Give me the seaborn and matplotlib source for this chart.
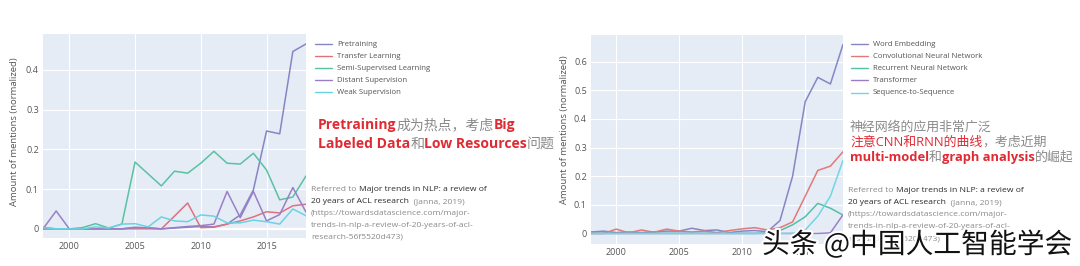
import matplotlib
matplotlib.use("Agg")
import matplotlib.pyplot as plt
import matplotlib.patheffects as pe
import seaborn as sns
import pandas as pd

# ---------------- data ----------------
years = list(range(1998, 2019))

left_names = ["Pretraining", "Transfer Learning", "Semi-Supervised Learning",
              "Distant Supervision", "Weak Supervision"]
pretraining = [0, 0, 0, 0, 0, 0, 0, 0.004, 0.002, 0, 0.002, 0.004, 0.006, 0.005,
               0.012, 0.035, 0.098, 0.246, 0.239, 0.446, 0.465]
transfer_learning = [0, 0, 0, 0, 0, 0, 0, 0, 0, 0, 0.032, 0.065, 0.003, 0.004,
                     0.012, 0.02, 0.03, 0.043, 0.04, 0.058, 0.062]
semi_supervised = [0.004, 0, 0, 0.003, 0.013, 0.002, 0.012, 0.168, 0.138, 0.108,
                   0.145, 0.14, 0.165, 0.195, 0.165, 0.163, 0.19, 0.148, 0.073,
                   0.08, 0.133]
distant_supervision = [0, 0.045, 0, 0, 0, 0, 0, 0.003, 0.003, 0, 0.003, 0.006,
                       0.008, 0.012, 0.094, 0.028, 0.094, 0.02, 0.036, 0.104, 0.042]
weak_supervision = [0.003, 0, 0, 0, 0.005, 0.002, 0.012, 0.013, 0.005, 0.03, 0.02,
                    0.018, 0.035, 0.032, 0.015, 0.015, 0.022, 0.018, 0.012, 0.05,
                    0.033]

right_names = ["Word Embedding", "Convolutional Neural Network",
               "Recurrent Neural Network", "Transformer", "Sequence-to-Sequence"]
word_embedding = [0.005, 0.008, 0.003, 0.005, 0.003, 0.005, 0.008, 0.008, 0.018,
                  0.01, 0.012, 0.003, 0.008, 0.01, 0.006, 0.045, 0.2, 0.46, 0.545,
                  0.522, 0.66]
cnn = [0, 0, 0.015, 0.002, 0.012, 0.004, 0.015, 0.008, 0.005, 0.008, 0.003, 0.01,
       0.016, 0.02, 0.012, 0.02, 0.04, 0.13, 0.22, 0.235, 0.285]
rnn = [0, 0, 0, 0, 0, 0, 0, 0, 0, 0, 0, 0, 0, 0, 0.002, 0.01, 0.03, 0.058, 0.105,
       0.088, 0.064]
transformer = [0, 0, 0, 0, 0, 0, 0, 0, 0, 0, 0, 0, 0, 0, 0, 0, 0, 0, 0, 0.002,
               0.065]
seq2seq = [0, 0, 0, 0, 0, 0, 0, 0, 0, 0, 0, 0, 0, 0, 0, 0, 0, 0.012, 0.06, 0.13,
           0.255]

left_yticks = [0, 0.1, 0.2, 0.3, 0.4]
left_yticklabels = ["0", "0.1", "0.2", "0.3", "0.4"]
right_yticks = [0, 0.1, 0.2, 0.3, 0.4, 0.5, 0.6]
right_yticklabels = ["0", "0.1", "0.2", "0.3", "0.4", "0.5", "0.6"]
xticks = [2000, 2005, 2010, 2015]
ylabel = "Amount of mentions (normalized)"

left_colors = ["#8785c4", "#e0707e", "#58c2a2", "#9a7fc6", "#6ad3e2"]
right_colors = ["#8785c4", "#e07a78", "#52c0a6", "#9a7fc6", "#72d6e2"]

# ---------------- style ----------------
sns.set_style("darkgrid", {"axes.facecolor": "#e5ecf6", "grid.color": "white",
                           "axes.edgecolor": "#e5ecf6"})
plt.rcParams["font.family"] = ["Open Sans", "Noto Sans CJK SC", "DejaVu Sans"]

W, H = 1080, 266
fig = plt.figure(figsize=(W / 100, H / 100), dpi=100, facecolor="white")


def rect(l, t, r, b):
    return [l / W, 1 - b / H, (r - l) / W, (b - t) / H]


def fxy(x, y):
    return x / W, 1 - y / H


def make_panel(ax, names, series, colors, yticks, ylabels, ylim):
    rows = []
    for n, vals in zip(names, series):
        for yr, v in zip(years, vals):
            rows.append({"year": yr, "value": v, "topic": n})
    df = pd.DataFrame(rows)
    sns.lineplot(data=df, x="year", y="value", hue="topic", hue_order=names,
                 palette=colors, linewidth=1.1, ax=ax, legend=False)
    ax.set_xlim(1998, 2018)
    ax.set_ylim(*ylim)
    ax.set_xticks(xticks)
    ax.set_xticklabels([str(x) for x in xticks])
    ax.set_yticks(yticks)
    ax.set_yticklabels(ylabels)
    ax.tick_params(axis="both", labelsize=6.5, colors="#555555", length=0, pad=3)
    ax.set_xlabel("")
    ax.set_ylabel("")
    ax.grid(True, color="white", linewidth=0.8)
    ax.axhline(0, color="white", linewidth=1.6, zorder=0.5)
    for s in ax.spines.values():
        s.set_visible(False)


ax1 = fig.add_axes(rect(43, 34, 306, 238))
make_panel(ax1, left_names,
           [pretraining, transfer_learning, semi_supervised, distant_supervision,
            weak_supervision], left_colors, left_yticks, left_yticklabels,
           (-0.023, 0.49))

ax2 = fig.add_axes(rect(591, 35, 843, 244))
make_panel(ax2, right_names,
           [word_embedding, cnn, rnn, transformer, seq2seq], right_colors,
           right_yticks, right_yticklabels, (-0.037, 0.693))

# y labels
fig.text(*fxy(15, 132), ylabel, rotation=90, ha="center", va="center",
         fontsize=6.8, color="#555555")
fig.text(*fxy(564, 130), ylabel, rotation=90, ha="center", va="center",
         fontsize=6.8, color="#555555")


# legends
def draw_legend(x0, x1, xt, ys, names, colors):
    for n, c, y in zip(names, colors, ys):
        fx0, fy = fxy(x0, y)
        fx1, _ = fxy(x1, y)
        fig.add_artist(plt.Line2D([fx0, fx1], [fy, fy], color=c, linewidth=1.0,
                                  transform=fig.transFigure))
        fig.text(*fxy(xt, y), n, ha="left", va="center", fontsize=5.6,
                 color="#555555")


draw_legend(315, 332, 337, [44, 56, 68, 80, 92], left_names, left_colors)
draw_legend(851, 868, 873, [44, 56, 68, 80, 93], right_names, right_colors)

renderer = fig.canvas.get_renderer()


def runs(x, y, parts, size):
    """parts: list of (text, color, weight); y = baseline pixel"""
    cx = x
    for txt, col, wt in parts:
        t = fig.text(*fxy(cx, y), txt, ha="left", va="baseline", fontsize=size,
                     color=col, fontweight=wt)
        bb = t.get_window_extent(renderer)
        cx += bb.width


RED = "#e02a33"
GREY = "#8a8a8a"
DARK = "#2a2a2a"

runs(318, 129, [("Pretraining", RED, "bold"), ("成为热点，考虑", GREY, "normal"),
                ("Big", RED, "bold")], 10)
runs(318, 148, [("Labeled Data", RED, "bold"), ("和", GREY, "normal"),
                ("Low Resources", RED, "bold"), ("问题", GREY, "normal")], 10.1)

runs(850, 131, [("神经网络的应用非常广泛", GREY, "normal")], 9.3)
runs(850, 146, [("注意CNN和RNN的曲线", RED, "normal"), ("，考虑近期", GREY, "normal")], 9.3)
runs(850, 161, [("multi-model", RED, "bold"), ("和", GREY, "normal"),
                ("graph analysis", RED, "bold"), ("的崛起", GREY, "normal")], 9.3)


def reference(x, y0):
    fs = 6.1
    runs(x, y0, [("Referred to ", GREY, "normal"),
                 ("Major trends in NLP: a review of", DARK, "normal")], fs)
    runs(x, y0 + 12, [("20 years of ACL research", DARK, "normal"),
                      ("  (Janna, 2019)", GREY, "normal")], fs)
    runs(x, y0 + 24, [("(https://towardsdatascience.com/major-", GREY, "normal")], fs)
    runs(x, y0 + 36, [("trends-in-nlp-a-review-of-20-years-of-acl-", GREY, "normal")], fs)
    runs(x, y0 + 48, [("research-56f5520d473)", GREY, "normal")], fs)


reference(311, 191)
reference(848, 192)

# watermark
fig.text(*fxy(762, 253), "头条 @中国人工智能学会", ha="left", va="baseline",
         fontsize=20, color="#111111",
         family=["Noto Sans CJK SC", "DejaVu Sans"],
         path_effects=[pe.withStroke(linewidth=3, foreground="white")])

fig.savefig("out.png", dpi=100, facecolor="white")
